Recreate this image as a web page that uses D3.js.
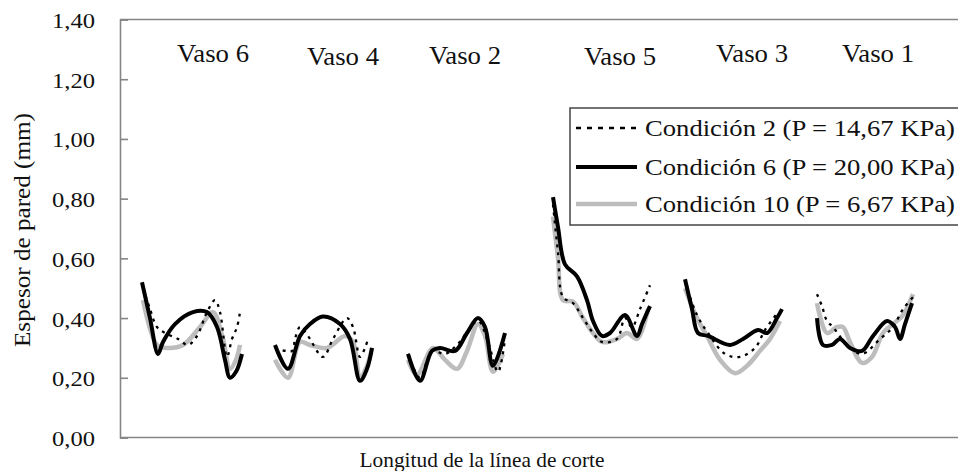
<!DOCTYPE html>
<html>
<head>
<meta charset="utf-8">
<script src="https://cdn.jsdelivr.net/npm/d3@7"></script>
<style>
  html, body { margin: 0; padding: 0; background: #fff; }
  svg { display: block; font-family: "Liberation Serif", "Times New Roman", serif; }
</style>
</head>
<body>
<div id="chart"></div>
<script>
// Nombres de los vasos y posición de su etiqueta sobre la longitud de corte
const vasos = ["Vaso 6", "Vaso 4", "Vaso 2", "Vaso 5", "Vaso 3", "Vaso 1"];
const vasoLabelAt = [93, 223, 345, 500, 632, 758];
const vasoLabelVal = [1.257, 1.248, 1.25, 1.248, 1.259, 1.259];

// Marcas del eje Y
const yTicks = [0, 0.2, 0.4, 0.6, 0.8, 1.0, 1.2, 1.4];

// Series: [longitud, espesor] por vaso (Vaso 6, 4, 2, 5, 3, 1)
const cond2 = [
  [[23, 0.50], [30, 0.43], [37, 0.37], [45, 0.35], [58, 0.33], [68, 0.31], [77, 0.34], [87, 0.42], [95, 0.46], [100, 0.42], [107, 0.27], [112, 0.33], [117, 0.37], [120, 0.42]],
  [[155, 0.30], [172, 0.29], [175, 0.33], [180, 0.37], [188, 0.34], [203, 0.27], [213, 0.33], [227, 0.40], [233, 0.37], [240, 0.27], [245, 0.30], [248, 0.33]],
  [[288, 0.28], [300, 0.20], [312, 0.29], [325, 0.28], [337, 0.31], [358, 0.39], [368, 0.32], [378, 0.22], [385, 0.33]],
  [[433, 0.78], [438, 0.62], [443, 0.47], [453, 0.45], [463, 0.40], [473, 0.35], [482, 0.32], [497, 0.33], [505, 0.40], [512, 0.37], [520, 0.43], [530, 0.51]],
  [[565, 0.52], [577, 0.41], [588, 0.35], [605, 0.28], [620, 0.27], [635, 0.30], [645, 0.36], [658, 0.42]],
  [[697, 0.48], [702, 0.44], [707, 0.39], [713, 0.37], [727, 0.31], [742, 0.28], [760, 0.33], [773, 0.37], [783, 0.43], [793, 0.47]]
];

const cond6 = [
  [[22, 0.52], [30, 0.40], [38, 0.28], [43, 0.32], [55, 0.38], [73, 0.42], [87, 0.42], [97, 0.37], [105, 0.26], [110, 0.20], [116, 0.22], [122, 0.28]],
  [[155, 0.31], [168, 0.23], [180, 0.34], [190, 0.38], [203, 0.405], [220, 0.38], [230, 0.33], [240, 0.19], [247, 0.23], [252, 0.30]],
  [[288, 0.28], [300, 0.19], [312, 0.29], [320, 0.30], [335, 0.29], [347, 0.35], [358, 0.40], [365, 0.37], [373, 0.24], [385, 0.35]],
  [[433, 0.805], [438, 0.705], [445, 0.58], [457, 0.54], [467, 0.46], [473, 0.39], [482, 0.34], [490, 0.35], [505, 0.41], [517, 0.34], [522, 0.38], [530, 0.44]],
  [[565, 0.53], [572, 0.43], [578, 0.35], [588, 0.34], [610, 0.31], [623, 0.33], [638, 0.36], [647, 0.35], [657, 0.40], [662, 0.43]],
  [[697, 0.40], [703, 0.31], [712, 0.31], [720, 0.33], [730, 0.30], [742, 0.29], [753, 0.34], [767, 0.39], [775, 0.37], [780, 0.33], [785, 0.38], [792, 0.45]]
];

const cond10 = [
  [[23, 0.46], [37, 0.31], [47, 0.30], [63, 0.31], [80, 0.37], [93, 0.42], [103, 0.33], [110, 0.23], [116, 0.26], [120, 0.31]],
  [[155, 0.26], [168, 0.20], [180, 0.32], [190, 0.31], [207, 0.30], [225, 0.34], [233, 0.32], [240, 0.20], [247, 0.24], [252, 0.30]],
  [[288, 0.26], [297, 0.21], [313, 0.30], [325, 0.26], [337, 0.23], [347, 0.29], [358, 0.38], [365, 0.34], [373, 0.22], [383, 0.28]],
  [[433, 0.74], [438, 0.60], [443, 0.46], [453, 0.455], [463, 0.40], [473, 0.35], [482, 0.32], [497, 0.33], [507, 0.35], [517, 0.33], [528, 0.43]],
  [[565, 0.50], [577, 0.40], [587, 0.34], [600, 0.26], [615, 0.215], [627, 0.24], [640, 0.29], [650, 0.33], [660, 0.39]],
  [[697, 0.45], [707, 0.35], [717, 0.37], [723, 0.37], [730, 0.32], [742, 0.25], [752, 0.27], [763, 0.35], [773, 0.38], [783, 0.41], [793, 0.48]]
];

const condiciones = ["Condición 2 (P = 14,67 KPa)", "Condición 6 (P = 20,00 KPa)", "Condición 10 (P = 6,67 KPa)"];

// Dimensiones
const W = 958, H = 471;
const margin = { top: 19.5, right: -2, bottom: 33.5, left: 120 };
const width = W - margin.left - margin.right;
const height = H - margin.top - margin.bottom;

const svg = d3.select("#chart").append("svg")
  .attr("width", W).attr("height", H);

const g = svg.append("g")
  .attr("transform", `translate(${margin.left},${margin.top})`);

const x = d3.scaleLinear().domain([0, 840]).range([0, width]);
const y = d3.scaleLinear().domain([0, 1.4]).range([height, 0]);

// Marco: eje izquierdo, superior e inferior
const frame = "#858585";
g.append("line").attr("x1", 0).attr("x2", width).attr("y1", 0).attr("y2", 0)
  .attr("stroke", frame).attr("stroke-width", 1.6);
g.append("line").attr("x1", 0).attr("x2", width).attr("y1", height).attr("y2", height)
  .attr("stroke", frame).attr("stroke-width", 1.6);

// Eje Y con marcas hacia dentro
const yAxis = g.append("g")
  .call(d3.axisLeft(y).tickValues(yTicks).tickSize(-8).tickPadding(25)
    .tickFormat(d => d3.format(".2f")(d).replace(".", ",")));
yAxis.select(".domain").attr("stroke", frame).attr("stroke-width", 1.6);
yAxis.selectAll(".tick line").attr("stroke", frame).attr("stroke-width", 1.6);
yAxis.selectAll(".tick text")
  .attr("fill", "#111")
  .attr("dy", "0.38em")
  .attr("textLength", 43)
  .attr("lengthAdjust", "spacingAndGlyphs")
  .style("font-family", "Liberation Serif, serif")
  .style("font-size", "21px");

// Títulos de ejes
svg.append("text")
  .attr("transform", "rotate(-90)")
  .attr("x", -230).attr("y", 30)
  .attr("text-anchor", "middle")
  .attr("fill", "#111")
  .attr("textLength", 234)
  .attr("lengthAdjust", "spacingAndGlyphs")
  .style("font-size", "23px")
  .text("Espesor de pared (mm)");

svg.append("text")
  .attr("x", 482).attr("y", 467)
  .attr("text-anchor", "middle")
  .attr("fill", "#111")
  .attr("textLength", 245)
  .attr("lengthAdjust", "spacingAndGlyphs")
  .style("font-size", "22px")
  .text("Longitud de la línea de corte");

// Etiquetas de los vasos
g.selectAll(".vaso")
  .data(vasos)
  .enter().append("text")
  .attr("class", "vaso")
  .attr("x", (d, i) => x(vasoLabelAt[i]))
  .attr("y", (d, i) => y(vasoLabelVal[i]))
  .attr("text-anchor", "middle")
  .attr("fill", "#111")
  .attr("textLength", 72)
  .attr("lengthAdjust", "spacingAndGlyphs")
  .style("font-size", "25px")
  .text(d => d);

// Líneas
const line = d3.line()
  .x(d => x(d[0]))
  .y(d => y(d[1]))
  .curve(d3.curveCatmullRom.alpha(0.5));

const estilos = [
  { data: cond10, color: "#bdbdbd", width: 4.5, dash: null },
  { data: cond6, color: "#000", width: 4, dash: null },
  { data: cond2, color: "#000", width: 2.3, dash: "3,5" }
];

estilos.forEach(s => {
  g.append("g").selectAll("path")
    .data(s.data)
    .enter().append("path")
    .attr("d", line)
    .attr("fill", "none")
    .attr("stroke", s.color)
    .attr("stroke-width", s.width)
    .attr("stroke-dasharray", s.dash)
    .attr("stroke-linejoin", "round");
});

// Leyenda
const legend = svg.append("g").attr("transform", "translate(570,108)");
legend.append("rect")
  .attr("x", 0).attr("y", 0).attr("width", 400).attr("height", 117)
  .attr("fill", "#fff").attr("stroke", "#444").attr("stroke-width", 1.5);

const legendStyle = [
  { color: "#000", width: 2.3, dash: "5,6" },
  { color: "#000", width: 4, dash: null },
  { color: "#bdbdbd", width: 4.5, dash: null }
];
const rowY = [20, 59, 96];

const item = legend.selectAll(".item")
  .data(condiciones)
  .enter().append("g")
  .attr("class", "item")
  .attr("transform", (d, i) => `translate(0,${rowY[i]})`);

item.append("line")
  .attr("x1", 6).attr("x2", 67).attr("y1", 0).attr("y2", 0)
  .attr("stroke", (d, i) => legendStyle[i].color)
  .attr("stroke-width", (d, i) => legendStyle[i].width)
  .attr("stroke-dasharray", (d, i) => legendStyle[i].dash);

item.append("text")
  .attr("x", 75).attr("y", 0).attr("dy", "0.35em")
  .attr("fill", "#111")
  .attr("textLength", 310)
  .attr("lengthAdjust", "spacingAndGlyphs")
  .style("font-size", "23px")
  .text(d => d);
</script>
</body>
</html>
